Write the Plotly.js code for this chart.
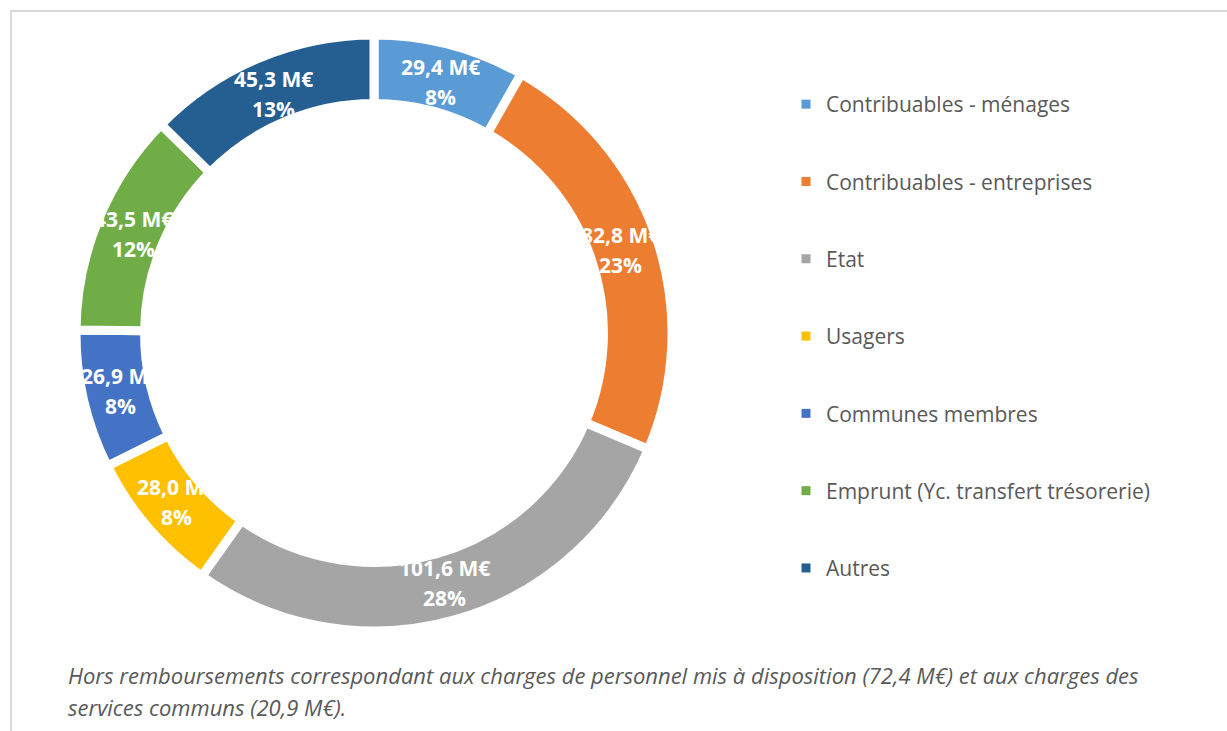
<!DOCTYPE html>
<html>
<head>
<meta charset="utf-8">
<script src="https://cdn.plot.ly/plotly-3.0.1.min.js"></script>
<style>
  body { margin: 0; background: #fff; }
  #frame { position: absolute; left: 10px; top: 10px; width: 1217px; height: 721px;
           border-top: 2px solid #d9d9d9; border-left: 2px solid #d9d9d9; }
  #chart { position: absolute; left: 0; top: 0; width: 1227px; height: 731px; }
</style>
</head>
<body>
<div id="frame"></div>
<div id="chart"></div>
<script>
let categories = ["Contribuables - ménages", "Contribuables - entreprises", "Etat", "Usagers",
                  "Communes membres", "Emprunt (Yc. transfert trésorerie)", "Autres"];
let montants = [29.4, 82.8, 101.6, 28.0, 26.9, 43.5, 45.3]; // M€
let couleurs = ["#5B9BD5", "#ED7D31", "#A5A5A5", "#FFC000", "#4472C4", "#70AD47", "#255E91"];
let note = ["Hors remboursements correspondant aux charges de personnel mis à disposition (72,4 M€) et aux charges des",
            "services communs (20,9 M€)."];

let W = 1227, H = 731;
let cx = 374, cy = 333, R = 298;   // centre et rayon du domaine (px)
let lineW = 9;
let rOut = R - lineW / 2;
let trou = 0.77;
let rEtiq = rOut * (1 + trou) / 2;  // étiquettes au milieu de l'anneau

let data = [{
    type: "pie",
    labels: categories,
    values: montants,
    sort: false,
    direction: "clockwise",
    rotation: 0,
    hole: trou,
    marker: { colors: couleurs, line: { color: "#ffffff", width: lineW } },
    textinfo: "none",
    hoverinfo: "label+value+percent",
    showlegend: false,
    domain: { x: [(cx - R) / W, (cx + R) / W], y: [(H - cy - R) / H, (H - cy + R) / H] }
}];

// entrées de légende (petits carrés comme dans Excel)
for (let i = 0; i < categories.length; i++) {
    data.push({
        type: "scatter",
        x: [null], y: [null],
        mode: "markers",
        name: categories[i],
        legendgroup: "g" + i,
        marker: { symbol: "square", size: 9, color: couleurs[i] },
        hoverinfo: "skip"
    });
}

// étiquettes des secteurs : au milieu de chaque secteur, comme Excel
let total = montants.reduce((a, b) => a + b, 0);
let annotations = [];
let cumul = 0;
montants.forEach((v, i) => {
    let angle = (cumul + v / 2) / total * 2 * Math.PI;
    cumul += v;
    let px = cx + rEtiq * Math.sin(angle);
    let py = cy - rEtiq * Math.cos(angle);
    let lignes = [v.toFixed(1).replace(".", ",") + " M€", Math.round(v / total * 100) + "%"];
    lignes.forEach((t, k) => {
        annotations.push({
            text: "<b>" + t + "</b>",
            xref: "paper", yref: "paper",
            x: px / W, y: 1 - py / H,
            xanchor: "center", yanchor: "middle",
            yshift: k === 0 ? 15 : -15,
            showarrow: false,
            font: { family: "Open Sans, sans-serif", size: 21, color: "#ffffff" }
        });
    });
});

note.forEach((t, i) => {
    annotations.push({
        text: t,
        xref: "paper", yref: "paper",
        x: 66 / W, y: 1 - (675 + i * 32) / H,
        xanchor: "left", yanchor: "middle",
        showarrow: false,
        font: { family: "Open Sans, sans-serif", size: 22, color: "#595959", style: "italic" }
    });
});

let layout = {
    width: W, height: H,
    margin: { l: 0, r: 0, t: 0, b: 0 },
    paper_bgcolor: "rgba(0,0,0,0)",
    plot_bgcolor: "rgba(0,0,0,0)",
    xaxis: { visible: false },
    yaxis: { visible: false },
    showlegend: true,
    legend: {
        x: 786 / W, y: 1 - 84 / H, xanchor: "left", yanchor: "top",
        tracegroupgap: 47,
        font: { family: "Open Sans, sans-serif", size: 21, color: "#595959" },
        itemclick: false, itemdoubleclick: false
    },
    annotations: annotations
};

Plotly.newPlot("chart", data, layout, { displayModeBar: false, staticPlot: true });
</script>
</body>
</html>
